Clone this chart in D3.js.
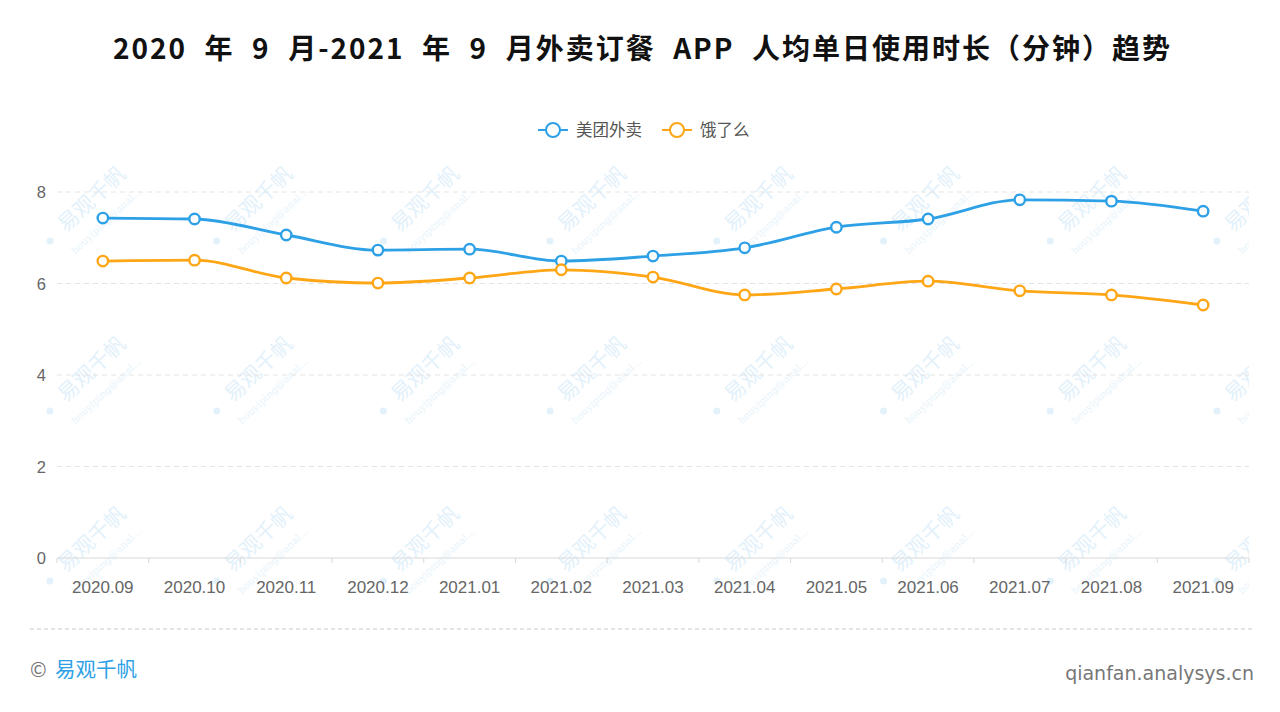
<!doctype html>
<html lang="zh">
<head>
<meta charset="utf-8">
<title>外卖订餐 APP 人均单日使用时长</title>
<style>
  html, body { margin: 0; padding: 0; background: #fff; }
  svg { display: block; font-family: "Noto Sans CJK SC", "Noto Sans", sans-serif; }
</style>
</head>
<body>
<svg id="chart" width="1280" height="712"></svg>
<script src="https://cdn.jsdelivr.net/npm/d3@7/dist/d3.min.js"></script>
<script>
// ---- data ----
const months = ["2020.09", "2020.10", "2020.11", "2020.12", "2021.01", "2021.02", "2021.03",
                "2021.04", "2021.05", "2021.06", "2021.07", "2021.08", "2021.09"];
const meituan = [7.43, 7.41, 7.06, 6.73, 6.75, 6.49, 6.60, 6.78, 7.23, 7.41, 7.83, 7.80, 7.58];
const eleme   = [6.49, 6.51, 6.12, 6.01, 6.12, 6.30, 6.14, 5.75, 5.88, 6.05, 5.84, 5.75, 5.53];
const seriesNames = ["美团外卖", "饿了么"];
const seriesColors = ["#2ea1e6", "#fea615"];
const yTicks = [0, 2, 4, 6, 8];
const title = "2020 年 9 月-2021 年 9 月外卖订餐 APP 人均单日使用时长（分钟）趋势";

const W = 1280, H = 712;
const M = { left: 57, right: 1249, top: 155, bottom: 558 };

const svg = d3.select("#chart");

// ---- watermark tiles (background decoration, clipped to plot width) ----
svg.append("clipPath").attr("id", "wmclip")
  .append("rect").attr("x", 0).attr("y", 0).attr("width", M.right).attr("height", 620);
const wm = svg.append("g").attr("pointer-events", "none").attr("clip-path", "url(#wmclip)");
for (let i = 0; i < 8; i++) {
  for (let j = 0; j < 3; j++) {
    const ax = 66 + i * 166.7, ay = 233 + j * 170;
    const g = wm.append("g").attr("transform", `translate(${ax},${ay}) rotate(-43)`);
    g.append("text").attr("x", 0).attr("y", 0)
      .attr("font-size", 21).attr("fill", "#e3f1fb").text("易观千帆");
    g.append("text").attr("x", -8).attr("y", 22)
      .attr("font-size", 10).attr("font-family", "DejaVu Serif, serif")
      .attr("fill", "#e8f3fb").text("houyiping@anal...");
    wm.append("circle").attr("cx", ax - 16).attr("cy", ay + 8).attr("r", 3.5).attr("fill", "#e3f1fb");
  }
}

// ---- scales ----
const x = d3.scaleBand().domain(months).range([M.left, M.right]);
const y = d3.scaleLinear().domain([0, 8]).range([M.bottom, 192]);

// gridlines
svg.append("g").selectAll("line")
  .data(yTicks.filter(d => d > 0))
  .join("line")
  .attr("x1", M.left).attr("x2", M.right)
  .attr("y1", d => y(d)).attr("y2", d => y(d))
  .attr("stroke", "#e4e4e4").attr("stroke-dasharray", "5,4");

// y labels
svg.append("g").selectAll("text")
  .data(yTicks)
  .join("text")
  .attr("x", 46).attr("y", d => y(d) + 6)
  .attr("text-anchor", "end")
  .attr("font-size", 16.5).attr("font-family", "Liberation Sans, Arial, sans-serif")
  .attr("fill", "#666")
  .text(d => d);

// x axis
const xAxis = svg.append("g").attr("transform", `translate(0,${M.bottom})`);
xAxis.append("line").attr("x1", M.left).attr("x2", M.right).attr("stroke", "#d9d9d9").attr("stroke-width", 1.2);
xAxis.selectAll("line.tick")
  .data(months.concat([null]))
  .join("line").attr("class", "tick")
  .attr("x1", (d, i) => M.left + i * x.step()).attr("x2", (d, i) => M.left + i * x.step())
  .attr("y1", 0).attr("y2", 5)
  .attr("stroke", "#d9d9d9");
xAxis.selectAll("text")
  .data(months)
  .join("text")
  .attr("x", d => x(d) + x.bandwidth() / 2).attr("y", 35)
  .attr("text-anchor", "middle")
  .attr("font-size", 17).attr("font-family", "Liberation Sans, Arial, sans-serif")
  .attr("fill", "#666")
  .text(d => d);

// ---- lines ----
const cx = d => x(d) + x.bandwidth() / 2;
const line = d3.line().x((d, i) => cx(months[i])).y(d => y(d)).curve(d3.curveMonotoneX);
[meituan, eleme].forEach((vals, k) => {
  svg.append("path").datum(vals)
    .attr("d", line)
    .attr("fill", "none").attr("stroke", seriesColors[k]).attr("stroke-width", 2.8);
  svg.append("g").selectAll("circle")
    .data(vals)
    .join("circle")
    .attr("cx", (d, i) => cx(months[i])).attr("cy", d => y(d))
    .attr("r", 5.2).attr("fill", "#fff")
    .attr("stroke", seriesColors[k]).attr("stroke-width", 2.4);
});

// ---- legend ----
const legendX = [538, 662];
seriesNames.forEach((name, k) => {
  const g = svg.append("g").attr("transform", `translate(${legendX[k]},130)`);
  g.append("line").attr("x1", 0).attr("x2", 30).attr("stroke", seriesColors[k]).attr("stroke-width", 2);
  g.append("circle").attr("cx", 15).attr("r", 7).attr("fill", "#fff")
    .attr("stroke", seriesColors[k]).attr("stroke-width", 2);
  g.append("text").attr("x", 38).attr("y", 6)
    .attr("font-size", 16.5).attr("fill", "#555").text(name);
});

// ---- title: word gaps widened a little so the line spans 113..1172 ----
const words = title.split(" ");
const titleEl = svg.append("text")
  .attr("x", 113).attr("y", 59)
  .attr("font-size", 28).attr("font-weight", "bold").attr("fill", "#111")
  .attr("letter-spacing", 2);
const spans = words.map((w, i) => titleEl.append("tspan").text(i < words.length - 1 ? w + " " : w));
const natural = titleEl.node().getComputedTextLength();
const gap = Math.max(0, (1059 - natural) / (words.length - 1));
spans.forEach((s, i) => { if (i > 0) s.attr("dx", gap); });

// ---- footer ----
svg.append("line").attr("x1", 30).attr("x2", 1255).attr("y1", 629).attr("y2", 629)
  .attr("stroke", "#c8c8c8").attr("stroke-dasharray", "4,3");
svg.append("text").attr("x", 30).attr("y", 677)
  .attr("font-size", 20).attr("fill", "#777").text("©");
svg.append("text").attr("x", 55).attr("y", 677)
  .attr("font-size", 20.5).attr("fill", "#2ea1e6").text("易观千帆");
svg.append("text").attr("x", 1254).attr("y", 680)
  .attr("text-anchor", "end")
  .attr("font-size", 19).attr("font-family", "DejaVu Sans, sans-serif").attr("fill", "#777")
  .text("qianfan.analysys.cn");
</script>
</body>
</html>
